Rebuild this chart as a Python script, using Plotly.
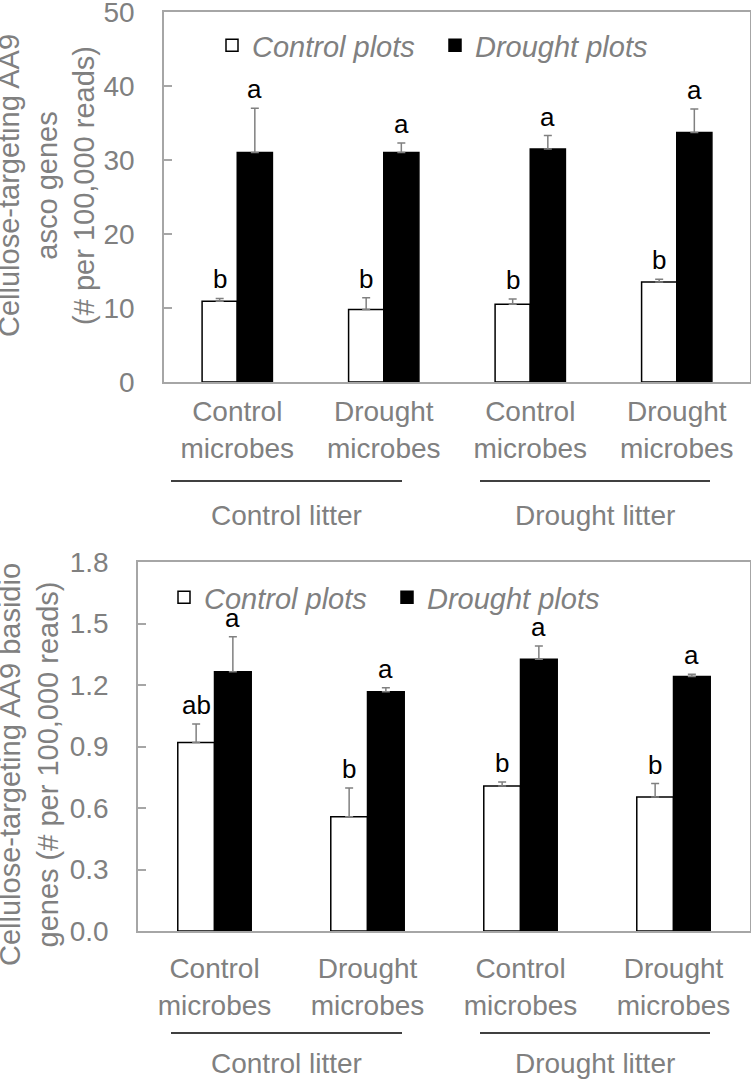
import plotly.graph_objects as go

categories = ["Control<br>microbes", "Drought<br>microbes", "Control<br>microbes", "Drought<br>microbes"]
litter_labels = ["Control litter", "Drought litter"]
series_names = ["Control plots", "Drought plots"]

# Top panel: AA9 asco genes
asco_control = [10.9, 9.8, 10.5, 13.5]
asco_control_err = [0.4, 1.6, 0.7, 0.4]
asco_drought = [31.0, 31.0, 31.5, 33.7]
asco_drought_err = [6.0, 1.3, 1.8, 3.2]
asco_letters_control = ["b", "b", "b", "b"]
asco_letters_drought = ["a", "a", "a", "a"]

# Bottom panel: AA9 basidio genes
basid_control = [0.92, 0.557, 0.707, 0.654]
basid_control_err = [0.09, 0.14, 0.02, 0.065]
basid_drought = [1.265, 1.167, 1.325, 1.242]
basid_drought_err = [0.17, 0.02, 0.065, 0.01]
basid_letters_control = ["ab", "b", "b", "b"]
basid_letters_drought = ["a", "a", "a", "a"]

W, H = 751, 1079
GREY = "#808080"
AXGREY = "#a6a6a6"
FONT = "Arial, Liberation Sans, sans-serif"
BARGAP = 0.52
xpos = list(range(len(categories)))

def px(xp):
    return xp / W

def py(yp):
    return 1 - yp / H

fig = go.Figure()

panels = [
    dict(xa="x", ya="y", ctrl=asco_control, ce=asco_control_err, dr=asco_drought, de=asco_drought_err,
         lc=asco_letters_control, ld=asco_letters_drought, legend="legend",
         xdom=[px(164), px(750)], ydom=[py(382), py(12)]),
    dict(xa="x2", ya="y2", ctrl=basid_control, ce=basid_control_err, dr=basid_drought, de=basid_drought_err,
         lc=basid_letters_control, ld=basid_letters_drought, legend="legend2",
         xdom=[px(138), px(750)], ydom=[py(931), py(562)]),
]

annotations = []
for p in panels:
    fig.add_trace(go.Bar(
        x=xpos, y=p["ctrl"], name=series_names[0], xaxis=p["xa"], yaxis=p["ya"],
        marker=dict(color="white", line=dict(color="black", width=1.5)),
        error_y=dict(type="data", array=p["ce"], arrayminus=[0] * 4, symmetric=False,
                     color=GREY, thickness=1.5, width=4),
        legend=p["legend"], offsetgroup="c",
    ))
    fig.add_trace(go.Bar(
        x=xpos, y=p["dr"], name=series_names[1], xaxis=p["xa"], yaxis=p["ya"],
        marker=dict(color="black", line=dict(color="black", width=1.5)),
        error_y=dict(type="data", array=p["de"], arrayminus=[0] * 4, symmetric=False,
                     color=GREY, thickness=1.5, width=4),
        legend=p["legend"], offsetgroup="d",
    ))
    plot_w = (p["xdom"][1] - p["xdom"][0]) * W
    bar_w = plot_w / 4 * (1 - BARGAP) / 2
    for i in range(4):
        for vals, errs, letters, sgn in [(p["ctrl"], p["ce"], p["lc"], -1), (p["dr"], p["de"], p["ld"], 1)]:
            annotations.append(dict(
                x=xpos[i], y=vals[i] + errs[i], xref=p["xa"], yref=p["ya"], text=letters[i],
                showarrow=False, xshift=sgn * bar_w / 2, yanchor="bottom", yshift=2,
                font=dict(family=FONT, size=26, color="black"),
            ))

# Y-axis titles
annotations.append(dict(
    x=px(47), y=py(186), xref="paper", yref="paper", textangle=-90,
    text="Cellulose-targeting AA9<br>asco genes<br>(# per 100,000 reads)",
    showarrow=False, xanchor="center", yanchor="middle",
    font=dict(family=FONT, size=29, color=GREY),
))
annotations.append(dict(
    x=px(29), y=py(765), xref="paper", yref="paper", textangle=-90,
    text="Cellulose-targeting AA9 basidio<br>genes (# per 100,000 reads)",
    showarrow=False, xanchor="center", yanchor="middle",
    font=dict(family=FONT, size=29, color=GREY),
))

# Litter group labels and underlines
shapes = []
for ly_line, ly_text in [(481, 515), (1033, 1063)]:
    for j, (x0, x1) in enumerate([(171, 402), (480, 710)]):
        shapes.append(dict(type="line", xref="paper", yref="paper",
                           x0=px(x0), x1=px(x1), y0=py(ly_line), y1=py(ly_line),
                           line=dict(color="black", width=1.5)))
        annotations.append(dict(
            x=px((x0 + x1) / 2), y=py(ly_text), xref="paper", yref="paper",
            text=litter_labels[j], showarrow=False, xanchor="center", yanchor="middle",
            font=dict(family=FONT, size=28, color=GREY),
        ))

axis_common = dict(showline=True, linecolor=AXGREY, linewidth=1.5, mirror=True,
                   showgrid=False, zeroline=False, automargin=False, ticklabeloverflow="allow")
xcommon = dict(range=[-0.5, 3.5], tickmode="array", tickvals=xpos, ticktext=categories, ticks="",
               tickfont=dict(family=FONT, size=28, color=GREY), **axis_common)
ycommon = dict(ticks="inside", ticklen=8, tickcolor=AXGREY, tickwidth=1.5,
               tickfont=dict(family=FONT, size=28, color=GREY), ticklabelstandoff=22, **axis_common)

legend_common = dict(orientation="h", xanchor="left", yanchor="top", bgcolor="rgba(0,0,0,0)",
                     font=dict(family=FONT, size=29, color=GREY, style="italic"),
                     itemwidth=30, tracegroupgap=0, entrywidth=178)

fig.update_layout(
    template="none",
    width=W, height=H, margin=dict(l=0, r=0, t=0, b=0, pad=0, autoexpand=False),
    paper_bgcolor="white", plot_bgcolor="white",
    barmode="group", bargap=BARGAP, bargroupgap=0,
    showlegend=True,
    annotations=annotations, shapes=shapes,
    xaxis=dict(domain=panels[0]["xdom"], anchor="y", ticklabelstandoff=4, **xcommon),
    yaxis=dict(domain=panels[0]["ydom"], anchor="x", range=[0, 50], dtick=10, tick0=0, **ycommon),
    xaxis2=dict(domain=panels[1]["xdom"], anchor="y2", ticklabelstandoff=12, **xcommon),
    yaxis2=dict(domain=panels[1]["ydom"], anchor="x2", range=[0, 1.8], dtick=0.3, tick0=0,
                tickformat=".1f", **ycommon),
    legend=dict(x=px(212), y=py(20), **legend_common),
    legend2=dict(x=px(164), y=py(572), **legend_common),
)

fig.write_html("out.html", config={"displayModeBar": False},
               post_script="document.body.style.margin='0px';")
